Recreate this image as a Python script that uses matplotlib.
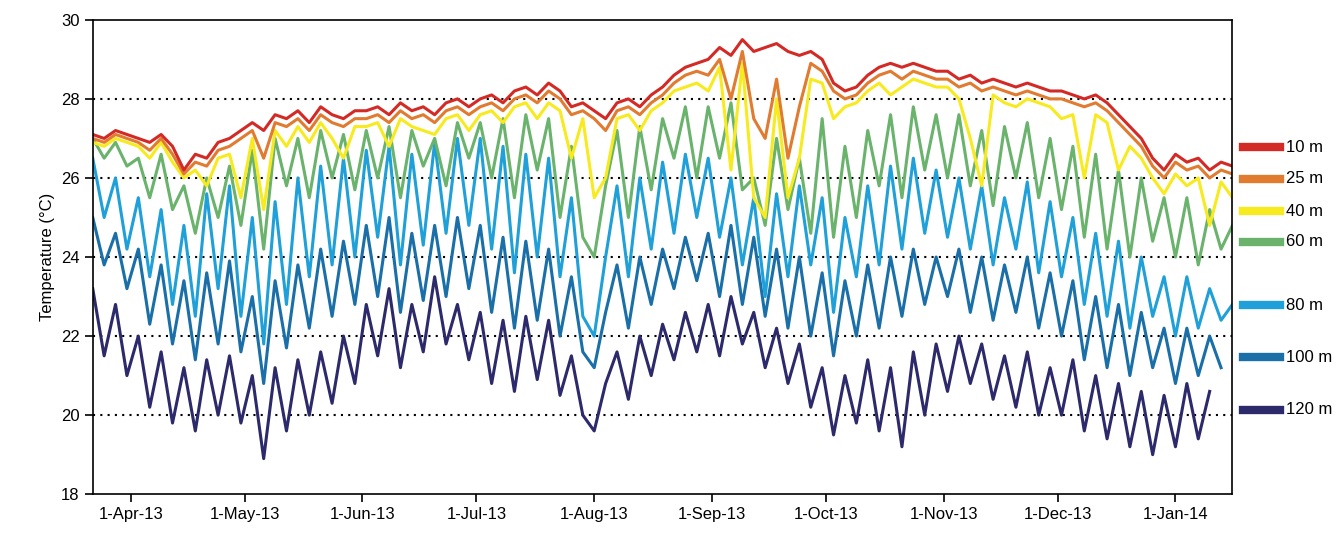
import numpy as np
import matplotlib
matplotlib.use("Agg")
import matplotlib.pyplot as plt
import matplotlib.dates as mdates
from matplotlib.lines import Line2D
import datetime as dt

plt.rcParams['font.family'] = ['Liberation Sans', 'DejaVu Sans']

start = dt.date(2013, 3, 22)
step_days = 3

t10 = [27.1,27.0,27.2,27.1,
 27.0,26.9,27.1,26.8,26.2,26.6,26.5,26.9,27.0,27.2,
 27.4,27.2,27.6,27.5,27.7,27.4,27.8,27.6,27.5,27.7,
 27.7,27.8,27.6,27.9,27.7,27.8,27.6,27.9,28.0,27.8,
 28.0,28.1,27.9,28.2,28.3,28.1,28.4,28.2,27.8,27.9,
 27.7,27.5,27.9,28.0,27.8,28.1,28.3,28.6,28.8,28.9,
 29.0,29.3,29.1,29.5,29.2,29.3,29.4,29.2,29.1,29.2,
 29.0,28.4,28.2,28.3,28.6,28.8,28.9,28.8,28.9,28.8,28.7,
 28.7,28.5,28.6,28.4,28.5,28.4,28.3,28.4,28.3,28.2,
 28.2,28.1,28.0,28.1,27.9,27.6,27.3,27.0,26.5,26.2,
 26.6,26.4,26.5,26.2,26.4,26.3]
t25 = [27.0,26.9,27.1,27.0,
 26.9,26.7,27.0,26.6,26.1,26.4,26.3,26.7,26.8,27.0,
 27.2,26.5,27.4,27.3,27.5,27.2,27.6,27.4,27.3,27.5,
 27.5,27.6,27.4,27.7,27.5,27.6,27.4,27.7,27.8,27.6,
 27.8,27.9,27.7,28.0,28.1,27.9,28.2,28.0,27.6,27.7,
 27.5,27.2,27.7,27.8,27.6,27.9,28.1,28.4,28.6,28.7,
 28.6,29.0,28.0,29.2,27.5,27.0,28.5,26.5,27.8,28.9,
 28.7,28.2,28.0,28.1,28.4,28.6,28.7,28.5,28.7,28.6,28.5,
 28.5,28.3,28.4,28.2,28.3,28.2,28.1,28.2,28.1,28.0,
 28.0,27.9,27.8,27.9,27.7,27.4,27.1,26.8,26.3,26.0,
 26.4,26.2,26.3,26.0,26.2,26.1]
t40 = [26.9,26.8,27.0,26.9,
 26.8,26.5,26.9,26.4,26.0,26.2,25.8,26.5,26.6,25.5,
 27.0,25.2,27.2,26.8,27.3,26.9,27.4,27.0,26.5,27.3,
 27.3,27.4,26.8,27.5,27.3,27.2,27.1,27.5,27.6,27.2,
 27.6,27.7,27.4,27.8,27.9,27.5,27.9,27.7,26.5,27.5,
 25.5,26.0,27.5,27.6,27.2,27.7,27.9,28.2,28.3,28.4,
 28.2,28.8,26.2,28.9,25.5,25.0,28.0,25.5,26.5,28.5,
 28.4,27.5,27.8,27.9,28.2,28.4,28.1,28.3,28.5,28.4,28.3,
 28.3,28.0,27.0,25.8,28.1,27.9,27.8,28.0,27.9,27.8,
 27.5,27.6,26.0,27.6,27.4,26.2,26.8,26.5,26.0,25.6,
 26.1,25.8,26.0,24.8,25.9,25.5]
t60 = [27.0,26.5,26.9,26.3,
 26.5,25.5,26.6,25.2,25.8,24.6,26.0,25.0,26.3,24.8,
 26.7,24.2,27.0,25.8,27.0,25.5,27.2,26.0,27.1,25.7,
 27.2,26.0,27.3,25.5,27.2,26.3,27.0,25.8,27.4,26.5,
 27.4,26.0,27.5,25.5,27.6,26.2,27.5,25.0,26.8,24.5,
 24.0,25.8,27.2,25.0,27.3,25.7,27.5,26.5,27.8,26.0,
 27.8,26.5,27.9,25.7,26.0,24.8,27.0,25.2,26.5,24.6,
 27.5,24.5,26.8,25.0,27.2,25.8,27.6,25.5,27.8,26.2,27.6,
 26.0,27.6,25.8,27.2,25.3,27.3,26.0,27.4,25.5,27.0,
 25.2,26.8,24.5,26.6,24.2,26.2,24.0,26.0,24.4,25.5,
 24.0,25.5,23.8,25.2,24.2,24.8]
t80 = [26.5,25.0,26.0,24.2,
 25.5,23.5,25.2,22.8,24.8,22.5,25.6,23.2,25.8,22.5,
 25.0,21.8,25.4,22.8,26.0,23.5,26.3,23.8,26.5,24.0,
 26.7,24.5,26.8,23.8,26.6,24.3,26.9,24.6,27.0,24.8,
 27.0,24.2,26.8,23.6,26.6,24.0,26.5,23.5,25.5,22.5,
 22.0,24.0,25.8,23.5,26.0,24.2,26.4,24.6,26.6,25.0,
 26.5,24.5,26.0,23.8,25.5,23.0,25.6,23.5,25.8,23.8,
 25.5,22.6,25.0,23.5,25.8,23.8,26.3,24.2,26.5,24.6,26.2,
 24.5,26.0,24.2,25.8,23.8,25.5,24.2,25.9,23.6,25.4,
 23.5,25.0,22.8,24.6,22.5,24.4,22.2,24.0,22.5,23.5,
 22.0,23.5,22.2,23.2,22.4,22.8]
t100 = [25.0,23.8,24.6,23.2,
 24.2,22.3,23.8,21.8,23.4,21.4,23.6,21.8,23.9,21.6,
 23.0,20.8,23.4,21.7,23.8,22.2,24.2,22.5,24.4,22.8,
 24.8,23.0,25.0,22.6,24.6,22.9,24.8,23.0,25.0,23.2,
 24.8,22.6,24.5,22.2,24.4,22.4,24.2,22.0,23.5,21.6,
 21.2,22.6,23.8,22.2,24.0,22.8,24.2,23.2,24.5,23.4,
 24.6,23.0,24.8,22.8,24.5,22.5,24.2,22.2,24.0,22.0,
 23.6,21.5,23.4,22.0,23.8,22.2,24.0,22.5,24.2,22.8,24.0,
 23.0,24.2,22.6,24.0,22.4,23.8,22.6,24.0,22.2,23.6,
 22.0,23.4,21.4,23.0,21.2,22.8,21.0,22.6,21.2,22.2,
 20.8,22.2,21.0,22.0,21.2]
t120 = [23.2,21.5,22.8,21.0,
 22.0,20.2,21.6,19.8,21.2,19.6,21.4,20.0,21.5,19.8,
 21.0,18.9,21.2,19.6,21.4,20.0,21.6,20.3,22.0,20.8,
 22.8,21.5,23.2,21.2,22.8,21.6,23.5,21.8,22.8,21.4,
 22.6,20.8,22.4,20.6,22.5,20.9,22.4,20.5,21.5,20.0,
 19.6,20.8,21.6,20.4,22.0,21.0,22.3,21.4,22.6,21.6,
 22.8,21.5,23.0,21.8,22.6,21.2,22.2,20.8,21.8,20.2,
 21.2,19.5,21.0,19.8,21.4,19.6,21.2,19.2,21.6,20.0,21.8,
 20.6,22.0,20.8,21.8,20.4,21.5,20.2,21.6,20.0,21.2,
 20.0,21.4,19.6,21.0,19.4,20.8,19.2,20.6,19.0,20.5,
 19.2,20.8,19.4,20.6]

series = [("120 m", t120, "#2c2a6b"), ("100 m", t100, "#1a6fa8"),
          ("80 m", t80, "#1fa0d8"), ("60 m", t60, "#6ab36c"),
          ("40 m", t40, "#f7ea1f"), ("25 m", t25, "#e07b30"),
          ("10 m", t10, "#d42a26")]

fig = plt.figure(figsize=(13.44, 5.36), dpi=100)
ax = fig.add_axes([0.069, 0.078, 0.848, 0.885])
for y in [20, 22, 24, 26, 28]:
    ax.axhline(y, color='black', ls=(0, (1, 2.5)), lw=1.5, zorder=1)
for name, vals, col in series:
    dates = [start + dt.timedelta(days=step_days * i) for i in range(len(vals))]
    ax.plot(dates, vals, color=col, lw=2.2, zorder=2)

ax.set_xlim(dt.date(2013, 3, 22), dt.date(2014, 1, 16))
ax.set_ylim(18, 30)
ax.set_yticks([18, 20, 22, 24, 26, 28, 30])
ticks = [dt.date(2013, m, 1) for m in range(4, 13)] + [dt.date(2014, 1, 1)]
ax.set_xticks(ticks)
ax.xaxis.set_major_formatter(mdates.DateFormatter('%-d-%b-%y'))
ax.tick_params(labelsize=12, direction='out', length=6, width=1.2)
ax.set_ylabel('Temperature (°C)', fontsize=12)
for s in ax.spines.values():
    s.set_linewidth(1.2)

legend_y = [147, 179, 211, 242, 305, 357, 410]
for (name, vals, col), py in zip(series[::-1], legend_y):
    yf = 1 - py / 536
    fig.add_artist(Line2D([1243/1344, 1280/1344], [yf, yf], color=col, lw=6))
    fig.text(1286/1344, yf, name, fontsize=12, va='center')

fig.savefig('out.png', dpi=100)
